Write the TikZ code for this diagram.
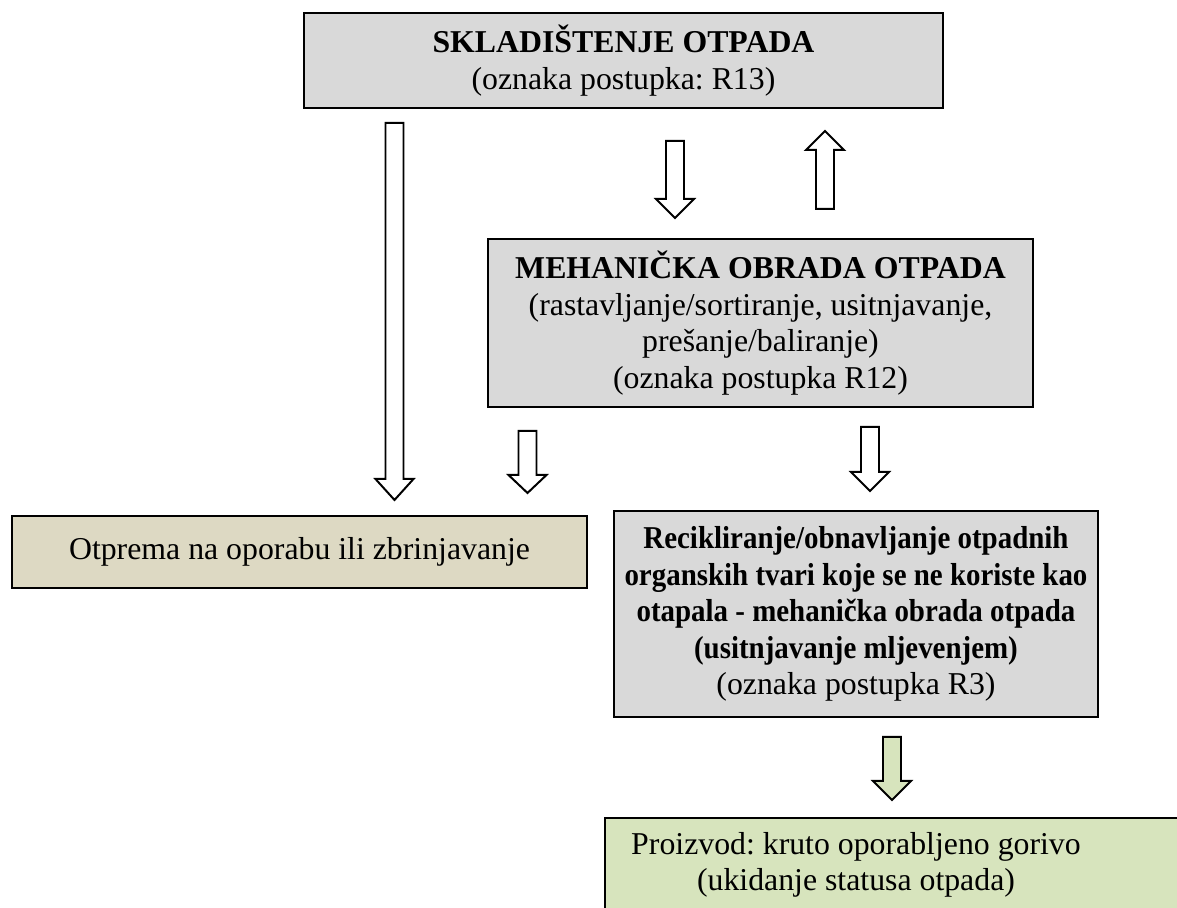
\documentclass[tikz,border=0pt]{standalone}
\usepackage{fontspec}
\setmainfont{Liberation Serif}
\newfontfamily\narrowfont{Liberation Serif}[FakeStretch=0.91]
\frenchspacing
\definecolor{boxgray}{HTML}{D9D9D9}
\definecolor{boxsand}{HTML}{DDD9C3}
\definecolor{boxgreen}{HTML}{D7E4BD}
\newcommand{\px}{0.3774pt}
% hollow block arrow: [fill] x, start, head base, tip
\newcommand{\blockarrow}[5][white]{%
	\draw[line width=0.75pt, fill=#1] (#2-9,#3) -- (#2+9,#3) -- (#2+9,#4) -- (#2+19,#4) -- (#2,#5) -- (#2-19,#4) -- (#2-9,#4) -- cycle;}
\tikzset{
	box/.style={draw, line width=0.75pt, inner sep=0pt, align=center, anchor=north west,
		font=\fontsize{12}{13.8}\selectfont}
}
\begin{document}
\begin{tikzpicture}[x=0.3774pt, y=-0.3774pt]
	\clip (0,0) rectangle (1177,908);
	
	%boxes
	\node[box, fill=boxgray, minimum width=639*\px, minimum height=95*\px] (skl) at (303,12)
		{\textbf{SKLADIŠTENJE OTPADA}\\(oznaka postupka: R13)};
	\node[box, fill=boxgray, minimum width=545*\px, minimum height=168*\px] (meh) at (487,238)
		{\textbf{MEHANIČKA OBRADA OTPADA}\\(rastavljanje/sortiranje, usitnjavanje,\\prešanje/baliranje)\\(oznaka postupka R12)};
	\node[box, fill=boxsand, minimum width=575*\px, minimum height=72*\px] (otp) at (11,515)
		{Otprema na oporabu ili zbrinjavanje};
	\node[box, fill=boxgray, minimum width=484*\px, minimum height=206*\px] (rec) at (613,510)
		{{\narrowfont\bfseries Recikliranje/obnavljanje otpadnih}\\{\narrowfont\bfseries organskih tvari koje se ne koriste kao}\\{\narrowfont\bfseries otapala - mehanička obrada otpada}\\{\narrowfont\bfseries (usitnjavanje mljevenjem)}\\(oznaka postupka R3)};
	
	%product box runs past the page edge
	\draw[line width=0.75pt, fill=boxgreen] (605,818) rectangle (1200,930);
	\node[font=\fontsize{12}{13.8}\selectfont, align=center] (pro) at (856,865)
		{Proizvod: kruto oporabljeno gorivo\\(ukidanje statusa otpada)};
	
	%arrows
	\blockarrow{394.5}{123}{479}{500}
	\blockarrow{675}{141}{199}{218}
	\blockarrow{825}{209}{150}{131}
	\blockarrow{527.5}{431}{475}{493}
	\blockarrow{870}{427}{472}{491}
	\blockarrow[boxgreen]{892}{737}{781}{800}
\end{tikzpicture}
\end{document}
